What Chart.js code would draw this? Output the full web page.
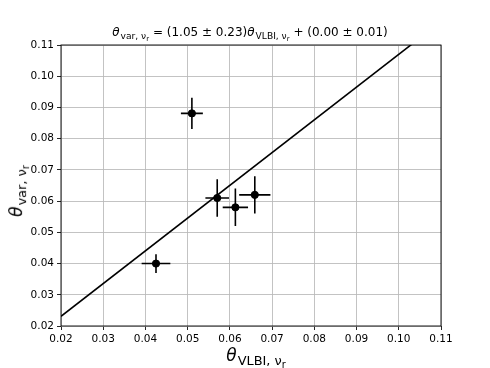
<!DOCTYPE html>
<html>
<head>
<meta charset="utf-8">
<script src="https://cdn.jsdelivr.net/npm/chart.js@4.4.1/dist/chart.umd.min.js"></script>
<style>
  html, body { margin: 0; padding: 0; background: #fff; }
  #wrap { position: relative; width: 490px; height: 368px; font-family: "DejaVu Sans", sans-serif; color: #000; }
  #chart { position: absolute; left: 0; top: 0; }
  .lbl { position: absolute; white-space: nowrap; line-height: 1; }
  .lbl i { font-style: italic; }
  .lbl sub { font-size: 76%; vertical-align: -0.3em; line-height: 0; margin-left: 1px; }
  .lbl sub sub { font-size: 76%; margin-left: 0; }
  #title { left: 250px; top: 32px; font-size: 12px; transform: translate(-50%, -50%); }
  #xlabel { left: 256px; top: 356px; font-size: 17px; transform: translate(-50%, -50%); }
  #ylabel { left: 17px; top: 191px; font-size: 17px; transform: translate(-50%, -50%) rotate(-90deg); }
</style>
</head>
<body>
<div id="wrap">
  <canvas id="chart" width="490" height="368"></canvas>
  <div class="lbl" id="title"><i>θ</i><sub>var, ν<sub>r</sub></sub> = (1.05 ± 0.23)<i>θ</i><sub>VLBI, ν<sub>r</sub></sub> + (0.00 ± 0.01)</div>
  <div class="lbl" id="xlabel"><i>θ</i><sub>VLBI, ν<sub>r</sub></sub></div>
  <div class="lbl" id="ylabel"><i>θ</i><sub>var, ν<sub>r</sub></sub></div>
</div>
<script>
/* =========================================================
   DATA
========================================================= */

const xVals = [0.0510, 0.0570, 0.0613, 0.0659, 0.0425];
const yVals = [0.0881, 0.0610, 0.0580, 0.0620, 0.0400];
const xErr = [0.0026, 0.0028, 0.0030, 0.0037, 0.0034];
const yErr = [0.0050, 0.0060, 0.0060, 0.0060, 0.0030];

// fitted line endpoints
const fitX = [0.02, 0.11];
const fitY = [0.0231, 0.1175];

const tickVals = [0.02, 0.03, 0.04, 0.05, 0.06, 0.07, 0.08, 0.09, 0.10, 0.11];

/* =========================================================
   PLUGINS
========================================================= */

const errorBars = {
  id: "errorBars",
  beforeDatasetsDraw(chart) {
    const { ctx, scales: { x, y } } = chart;
    ctx.save();
    ctx.strokeStyle = "#000";
    ctx.lineWidth = 1.6;
    xVals.forEach((xv, i) => {
      const yv = yVals[i];
      ctx.beginPath();
      ctx.moveTo(x.getPixelForValue(xv - xErr[i]), y.getPixelForValue(yv));
      ctx.lineTo(x.getPixelForValue(xv + xErr[i]), y.getPixelForValue(yv));
      ctx.moveTo(x.getPixelForValue(xv), y.getPixelForValue(yv - yErr[i]));
      ctx.lineTo(x.getPixelForValue(xv), y.getPixelForValue(yv + yErr[i]));
      ctx.stroke();
    });
    ctx.restore();
  }
};

const frame = {
  id: "frame",
  afterDraw(chart) {
    const { ctx, chartArea: a } = chart;
    ctx.save();
    ctx.strokeStyle = "#000";
    ctx.lineWidth = 0.9;
    ctx.strokeRect(a.left, a.top, a.right - a.left, a.bottom - a.top);
    ctx.restore();
  }
};

/* =========================================================
   CHART
========================================================= */

const tickFont = { family: "DejaVu Sans", size: 10.5 };

function axis(fitKey, fitSize) {
  return {
    type: "linear",
    min: 0.02,
    max: 0.11,
    afterBuildTicks: (s) => { s.ticks = tickVals.map((v) => ({ value: v })); },
    afterFit: (s) => { s[fitKey] = fitSize; },
    grid: {
      color: "#b8b8b8",
      lineWidth: 0.85,
      tickColor: "#000",
      tickWidth: 0.85,
      tickLength: 4
    },
    border: { display: false },
    ticks: {
      color: "#000",
      font: tickFont,
      padding: 3,
      maxRotation: 0,
      autoSkip: false,
      callback: (v) => Number(v).toFixed(2)
    }
  };
}

new Chart(document.getElementById("chart"), {
  type: "scatter",
  data: {
    datasets: [
      {
        data: xVals.map((v, i) => ({ x: v, y: yVals[i] })),
        backgroundColor: "#000",
        borderColor: "#000",
        pointRadius: 3.6,
        pointHoverRadius: 3.6,
        order: 0
      },
      {
        data: fitX.map((v, i) => ({ x: v, y: fitY[i] })),
        showLine: true,
        borderColor: "#000",
        borderWidth: 1.6,
        pointRadius: 0,
        clip: 0,
        order: 1
      }
    ]
  },
  options: {
    responsive: false,
    animation: false,
    events: [],
    layout: { padding: { top: 45, right: 49, left: 0, bottom: 0 } },
    plugins: {
      legend: { display: false },
      tooltip: { enabled: false },
      title: { display: false }
    },
    scales: {
      x: axis("height", 42),
      y: axis("width", 61)
    }
  },
  plugins: [errorBars, frame]
});
</script>
</body>
</html>
